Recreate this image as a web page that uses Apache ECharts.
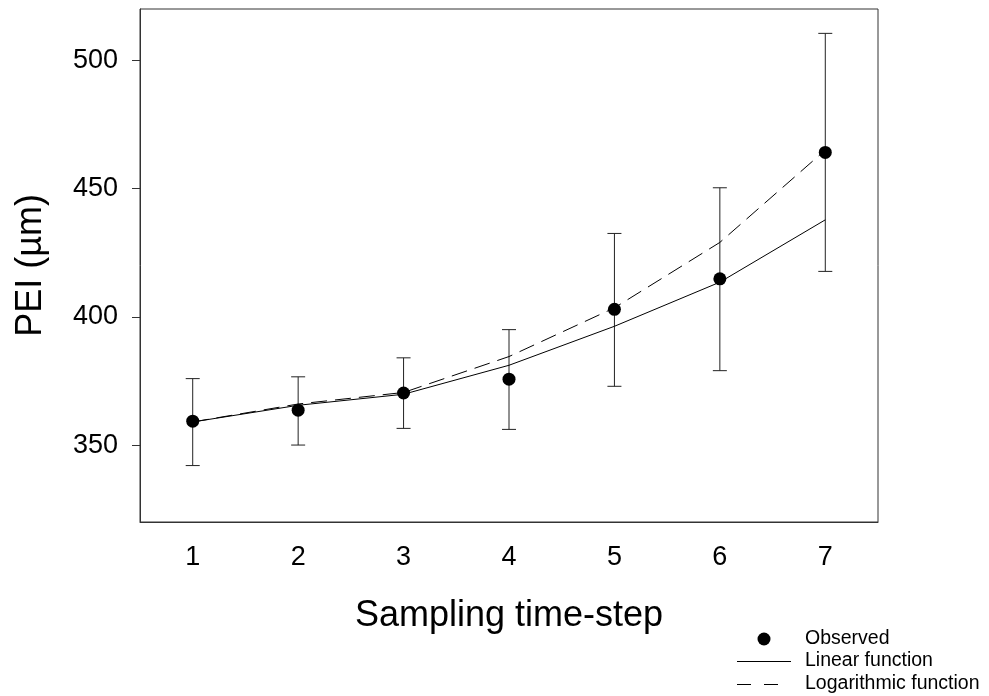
<!DOCTYPE html>
<html>
<head>
<meta charset="utf-8">
<script src="https://cdn.jsdelivr.net/npm/echarts@6/dist/echarts.min.js"></script>
<style>
  html, body { margin: 0; padding: 0; background: #ffffff; }
  #chart { width: 989px; height: 696px; }
</style>
</head>
<body>
<div id="chart"></div>
<script>
const categories = ['1', '2', '3', '4', '5', '6', '7'];
const observed = [359.3, 363.6, 370.3, 375.7, 402.9, 414.8, 464.1];
const errLow = [342.0, 350.0, 356.5, 356.1, 372.9, 379.0, 417.7];
const errHigh = [375.9, 376.6, 384.0, 395.0, 432.5, 450.3, 510.5];
const linearFit = [359.0, 365.5, 369.8, 381.1, 396.3, 413.5, 437.8];
const logFit = [359.0, 366.0, 370.5, 384.5, 403.5, 429.0, 465.0];
const yTicks = [350, 400, 450, 500];
const legendNames = ['Observed', 'Linear function', 'Logarithmic function'];

const FONT = 'Liberation Sans, Arial, sans-serif';
const chart = echarts.init(document.getElementById('chart'), null, { renderer: 'canvas' });

const errData = categories.map((c, i) => [i, errLow[i], errHigh[i]]);

const option = {
  backgroundColor: '#ffffff',
  animation: false,
  grid: {
    left: 140, right: 111, top: 9, bottom: 174,
    show: true, borderColor: '#333', borderWidth: 1, backgroundColor: 'transparent'
  },
  xAxis: {
    type: 'category',
    data: categories,
    boundaryGap: true,
    name: 'Sampling time-step',
    nameLocation: 'middle',
    nameGap: 76,
    nameTextStyle: { fontFamily: FONT, fontSize: 36, color: '#000' },
    axisLine: { lineStyle: { color: '#333', width: 1 } },
    axisTick: { alignWithLabel: true, length: 8, lineStyle: { color: '#333' } },
    axisLabel: { fontFamily: FONT, fontSize: 27, color: '#000', margin: 22 },
    splitLine: { show: false }
  },
  yAxis: {
    type: 'value',
    min: 320,
    max: 520,
    name: 'PEI (µm)',
    nameLocation: 'middle',
    nameGap: 91,
    nameRotate: 90,
    nameTextStyle: { fontFamily: FONT, fontSize: 36, color: '#000' },
    axisLine: { show: true, lineStyle: { color: '#333', width: 1 } },
    axisTick: { show: true, length: 8, customValues: yTicks, lineStyle: { color: '#333' } },
    axisLabel: { fontFamily: FONT, fontSize: 27, color: '#000', margin: 22, customValues: yTicks },
    splitLine: { show: false }
  },
  series: [
    {
      name: 'errors',
      type: 'custom',
      data: errData,
      z: 1,
      renderItem: function (params, api) {
        const x = api.value(0);
        const lo = api.coord([x, api.value(1)]);
        const hi = api.coord([x, api.value(2)]);
        const half = 7;
        const style = { stroke: '#222', lineWidth: 1 };
        return {
          type: 'group',
          children: [
            { type: 'line', shape: { x1: lo[0], y1: lo[1], x2: hi[0], y2: hi[1] }, style: style },
            { type: 'line', shape: { x1: lo[0] - half, y1: lo[1], x2: lo[0] + half, y2: lo[1] }, style: style },
            { type: 'line', shape: { x1: hi[0] - half, y1: hi[1], x2: hi[0] + half, y2: hi[1] }, style: style }
          ]
        };
      }
    },
    {
      name: legendNames[1],
      type: 'line',
      data: linearFit,
      symbol: 'none',
      z: 2,
      lineStyle: { color: '#000', width: 1 }
    },
    {
      name: legendNames[2],
      type: 'line',
      data: logFit,
      symbol: 'none',
      z: 2,
      lineStyle: { color: '#000', width: 1, type: [16, 8] }
    },
    {
      name: legendNames[0],
      type: 'scatter',
      data: observed,
      symbol: 'circle',
      symbolSize: 13,
      z: 3,
      itemStyle: { color: '#000', opacity: 1 }
    }
  ],
  graphic: [
    { type: 'circle', shape: { cx: 764, cy: 639, r: 6.5 }, style: { fill: '#000' } },
    { type: 'line', shape: { x1: 737, y1: 661.5, x2: 791, y2: 661.5 }, style: { stroke: '#000', lineWidth: 1 } },
    { type: 'line', shape: { x1: 737, y1: 684.5, x2: 787, y2: 684.5 }, style: { stroke: '#000', lineWidth: 1, lineDash: [14, 13] } },
    { type: 'text', x: 805, y: 639, style: { text: legendNames[0], fontFamily: FONT, fontSize: 19.5, fill: '#000', verticalAlign: 'middle' } },
    { type: 'text', x: 805, y: 661, style: { text: legendNames[1], fontFamily: FONT, fontSize: 19.5, fill: '#000', verticalAlign: 'middle' } },
    { type: 'text', x: 805, y: 684, style: { text: legendNames[2], fontFamily: FONT, fontSize: 19.5, fill: '#000', verticalAlign: 'middle' } }
  ]
};

chart.setOption(option);
</script>
</body>
</html>
